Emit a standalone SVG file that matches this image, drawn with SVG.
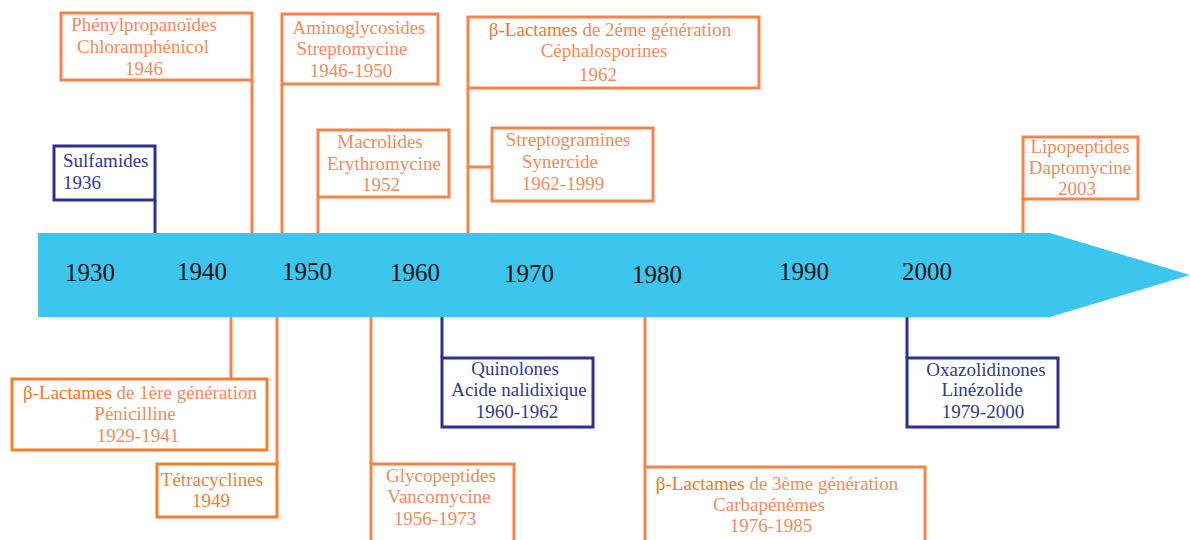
<svg xmlns="http://www.w3.org/2000/svg" width="1190" height="540" viewBox="0 0 1190 540">
<style>
.bo{fill:#ffffff;stroke:#f6834a;stroke-width:3}
.bn{fill:#ffffff;stroke:#2e3192;stroke-width:3}
.lo{stroke:#f6834a;stroke-width:3;fill:none}
.ln{stroke:#2e3192;stroke-width:3;fill:none}
.to{font-family:"Liberation Serif","Times New Roman",serif;font-size:19px;fill:#f68a5a;text-anchor:middle}
.tn{font-family:"Liberation Serif","Times New Roman",serif;font-size:19px;fill:#33398c;text-anchor:middle}
.b{fill:#f27722}
.yr{font-family:"Liberation Serif","Times New Roman",serif;font-size:25px;fill:#111111;text-anchor:middle}
</style>
<rect width="1190" height="540" fill="#ffffff"/>
<g id="timeline">
<polygon points="38,233 1050,233 1190,275 1050,317 38,317" fill="#3cc6ee"/>
<text class="yr" x="90" y="281">1930</text>
<text class="yr" x="202" y="280">1940</text>
<text class="yr" x="307" y="280">1950</text>
<text class="yr" x="415" y="281">1960</text>
<text class="yr" x="529" y="282">1970</text>
<text class="yr" x="657" y="283">1980</text>
<text class="yr" x="804" y="280">1990</text>
<text class="yr" x="927" y="280">2000</text>
</g>
<g id="connectors">
<line class="ln" x1="155" y1="200" x2="155" y2="233"/>
<line class="lo" x1="252" y1="80" x2="252" y2="233"/>
<line class="lo" x1="282" y1="84" x2="282" y2="233"/>
<line class="lo" x1="318" y1="197" x2="318" y2="233"/>
<line class="lo" x1="468" y1="88" x2="468" y2="233"/>
<line class="lo" x1="468" y1="167" x2="492" y2="167"/>
<line class="lo" x1="1023" y1="199" x2="1023" y2="233"/>
<line class="lo" x1="231" y1="317" x2="231" y2="379"/>
<line class="lo" x1="277" y1="317" x2="277" y2="464"/>
<line class="lo" x1="371" y1="317" x2="371" y2="464"/>
<line class="ln" x1="442" y1="317" x2="442" y2="358"/>
<line class="lo" x1="645" y1="317" x2="645" y2="467"/>
<line class="ln" x1="907" y1="317" x2="907" y2="358"/>
</g>
<g id="sulfamides">
<rect class="bn" x="54" y="146" width="101" height="54"/>
<text class="tn" style="text-anchor:start" x="63" y="167">Sulfamides</text>
<text class="tn" style="text-anchor:start" x="63" y="189">1936</text>
</g>
<g id="phenylpropanoides">
<rect class="bo" x="61" y="13" width="191" height="67"/>
<text class="to" x="144" y="31">Phénylpropanoïdes</text>
<text class="to" x="143" y="53">Chloramphénicol</text>
<text class="to" x="144" y="75">1946</text>
</g>
<g id="aminoglycosides">
<rect class="bo" x="282" y="14" width="156" height="70"/>
<text class="to" x="359" y="34">Aminoglycosides</text>
<text class="to" x="352" y="55">Streptomycine</text>
<text class="to" x="351" y="77">1946-1950</text>
</g>
<g id="macrolides">
<rect class="bo" x="318" y="130" width="131" height="67"/>
<text class="to" x="380" y="148">Macrolides</text>
<text class="to" x="384" y="170">Erythromycine</text>
<text class="to" x="381" y="191">1952</text>
</g>
<g id="betalactames2">
<rect class="bo" x="468" y="17" width="291" height="71"/>
<text class="to" x="610" y="36"><tspan class="b">β-Lactames</tspan> de 2éme génération</text>
<text class="to" x="604" y="57">Céphalosporines</text>
<text class="to" x="598" y="81">1962</text>
</g>
<g id="streptogramines">
<rect class="bo" x="492" y="128" width="161" height="73"/>
<text class="to" x="568" y="146">Streptogramines</text>
<text class="to" x="560" y="168">Synercide</text>
<text class="to" x="563" y="190">1962-1999</text>
</g>
<g id="lipopeptides">
<rect class="bo" x="1023" y="137" width="115" height="62"/>
<text class="to" x="1080" y="153">Lipopeptides</text>
<text class="to" x="1080" y="174">Daptomycine</text>
<text class="to" x="1077" y="195">2003</text>
</g>
<g id="betalactames1">
<rect class="bo" x="12" y="379" width="255" height="71" style="stroke:#f47f2a"/>
<text class="to" x="140" y="399"><tspan class="b">β-Lactames</tspan> de 1ère génération</text>
<text class="to" x="135" y="420">Pénicilline</text>
<text class="to" x="138" y="442">1929-1941</text>
</g>
<g id="tetracyclines">
<rect class="bo" x="157" y="464" width="120" height="53" style="stroke:#f47f2a"/>
<text class="to" x="212" y="486" style="fill:#f47f2a">Tétracyclines</text>
<text class="to" x="211" y="507" style="fill:#f47f2a">1949</text>
</g>
<g id="glycopeptides">
<rect class="bo" x="371" y="464" width="143" height="90"/>
<text class="to" x="441" y="482">Glycopeptides</text>
<text class="to" x="439" y="503">Vancomycine</text>
<text class="to" x="435" y="525">1956-1973</text>
</g>
<g id="quinolones">
<rect class="bn" x="442" y="358" width="151" height="69"/>
<text class="tn" x="515" y="375">Quinolones</text>
<text class="tn" x="519" y="396">Acide nalidixique</text>
<text class="tn" x="517" y="418">1960-1962</text>
</g>
<g id="betalactames3">
<rect class="bo" x="645" y="467" width="280" height="90"/>
<text class="to" x="777" y="490"><tspan class="b">β-Lactames</tspan> de 3ème génération</text>
<text class="to" x="769" y="511">Carbapénèmes</text>
<text class="to" x="771" y="532">1976-1985</text>
</g>
<g id="oxazolidinones">
<rect class="bn" x="907" y="358" width="151" height="69"/>
<text class="tn" x="986" y="376">Oxazolidinones</text>
<text class="tn" x="982" y="396">Linézolide</text>
<text class="tn" x="983" y="418">1979-2000</text>
</g>
</svg>
